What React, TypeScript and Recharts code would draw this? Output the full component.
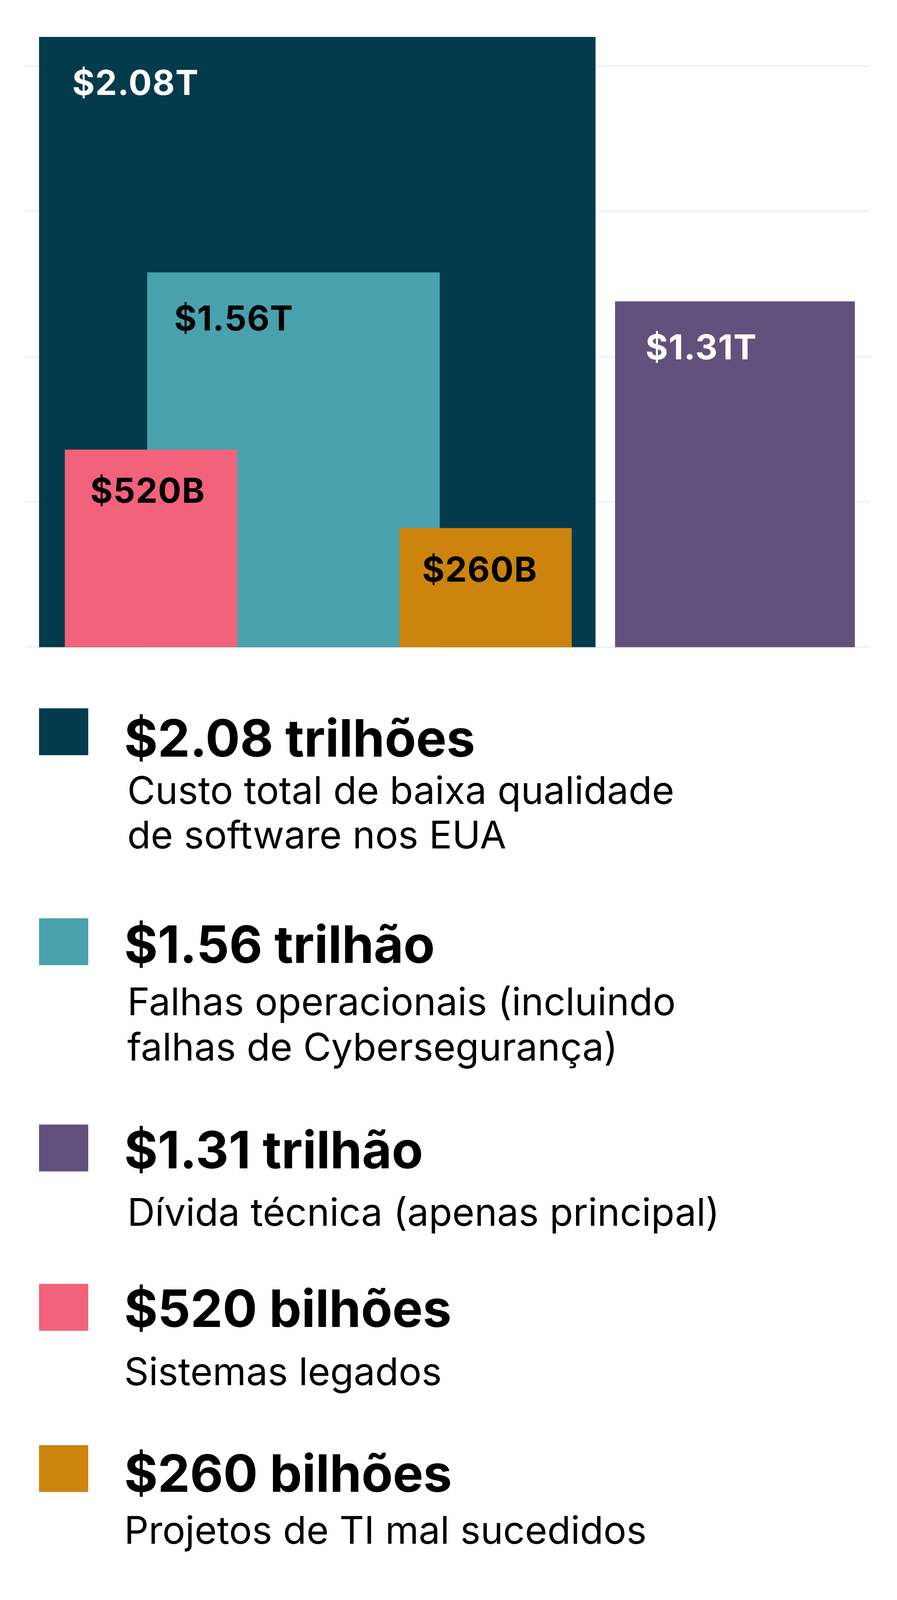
import React from "react";
import { BarChart, Bar, XAxis, YAxis, CartesianGrid, LabelList } from "recharts";

// series drawn as overlapping bars (back to front)
const seriesKeys = ["total", "operacionais", "legados", "projetos", "divida"];
// bar heights as drawn in the picture, in the chart's own units (gridlines every 0.5)
const barHeights = [2.1, 1.29, 0.68, 0.41, 1.19];
const barLabels = ["$2.08T", "$1.56T", "$520B", "$260B", "$1.31T"];
const barColors = ["#033b4d", "#49a1ad", "#f2627a", "#cc840c", "#63517d"];
const labelColors = ["#ffffff", "#000000", "#000000", "#000000", "#ffffff"];
const yTicks = [0, 0.5, 1, 1.5, 2];

const legendTitles = ["$2.08 trilhões", "$1.56 trilhão", "$1.31 trilhão", "$520 bilhões", "$260 bilhões"];
const legendDescriptions = [
    ["Custo total de baixa qualidade", "de software nos EUA"],
    ["Falhas operacionais (incluindo", "falhas de Cybersegurança)"],
    ["Dívida técnica (apenas principal)"],
    ["Sistemas legados"],
    ["Projetos de TI mal sucedidos"],
];
const legendColors = ["#033b4d", "#49a1ad", "#63517d", "#f2627a", "#cc840c"];

// layout only (designed on a 2297x4267 page, squeezed to the 4096px tall viewport)
const PAGE_W = 2297;
const PAGE_H = 4096;
const V = PAGE_H / 4267;
const sy = (v: number) => v * V;

const plotLeft = 64;
const plotRight = 2228;
const barSpans = [
    [100, 1525],
    [377, 1126],
    [166, 607],
    [1023, 1464],
    [1575, 2189],
];
const labelDx = [85, 69, 65, 58, 78];
const labelDy = [155, 155, 142, 143, 155];
const squareTops = [1889, 2449, 2999, 3424, 3854];
const titleBaselines = [2018, 2568, 3116, 3539, 3978];
const descBaselines = [[2144, 2263], [2707, 2828], [3269], [3694], [4117]];
const descX = [326, 326, 326, 318, 318];

const row: Record<string, string | number> = { name: "EUA" };
seriesKeys.forEach((k, i) => {
    row[k] = barHeights[i];
});
const data = [row];

const FONT = "Inter, 'Noto Sans', sans-serif";
const chartH = Math.round(sy(1760));

export default function App() {
    return (
        <div style={{ position: "absolute", left: 0, top: 0, width: PAGE_W, height: PAGE_H, background: "#fff", fontFamily: FONT, overflow: "hidden" }}>
            <BarChart
                width={PAGE_W}
                height={chartH}
                data={data}
                margin={{ top: sy(21), right: PAGE_W - plotRight, bottom: chartH - sy(1726), left: plotLeft }}
                barCategoryGap={0}
                barGap={0}
            >
                <CartesianGrid
                    xAxisId={seriesKeys[0]}
                    vertical={false}
                    horizontalValues={yTicks}
                    stroke="#eef0f2"
                    strokeWidth={4}
                />
                {seriesKeys.map((k, i) => (
                    <XAxis
                        key={k}
                        xAxisId={k}
                        dataKey="name"
                        hide
                        padding={{ left: barSpans[i][0] - plotLeft, right: plotRight - barSpans[i][1] }}
                    />
                ))}
                <YAxis hide domain={[0, 2.2]} ticks={yTicks} />
                {seriesKeys.map((k, i) => (
                    <Bar key={k} xAxisId={k} dataKey={k} fill={barColors[i]} isAnimationActive={false}>
                        <LabelList
                            dataKey={k}
                            content={(p: any) => (
                                <text
                                    x={Number(p.x) + labelDx[i]}
                                    y={Number(p.y) + sy(labelDy[i])}
                                    fill={labelColors[i]}
                                    fontFamily={FONT}
                                    fontWeight={700}
                                    fontSize={88}
                                    letterSpacing={1.5}
                                >
                                    {barLabels[i]}
                                </text>
                            )}
                        />
                    </Bar>
                ))}
            </BarChart>
            <svg width={PAGE_W} height={PAGE_H} style={{ position: "absolute", left: 0, top: 0, pointerEvents: "none" }}>
                {legendTitles.map((t, i) => (
                    <g key={t}>
                        <rect x={100} y={sy(squareTops[i])} width={126} height={sy(125)} fill={legendColors[i]} />
                        <text
                            x={318}
                            y={sy(titleBaselines[i])}
                            fontFamily={FONT}
                            fontWeight={700}
                            fontSize={131.5}
                            letterSpacing={-0.3}
                            fill="#000"
                        >
                            {t}
                        </text>
                        {legendDescriptions[i].map((line, j) => (
                            <text
                                key={j}
                                x={descX[i]}
                                y={sy(descBaselines[i][j])}
                                fontFamily={FONT}
                                fontWeight={400}
                                fontSize={98}
                                fill="#000"
                            >
                                {line}
                            </text>
                        ))}
                    </g>
                ))}
            </svg>
        </div>
    );
}
